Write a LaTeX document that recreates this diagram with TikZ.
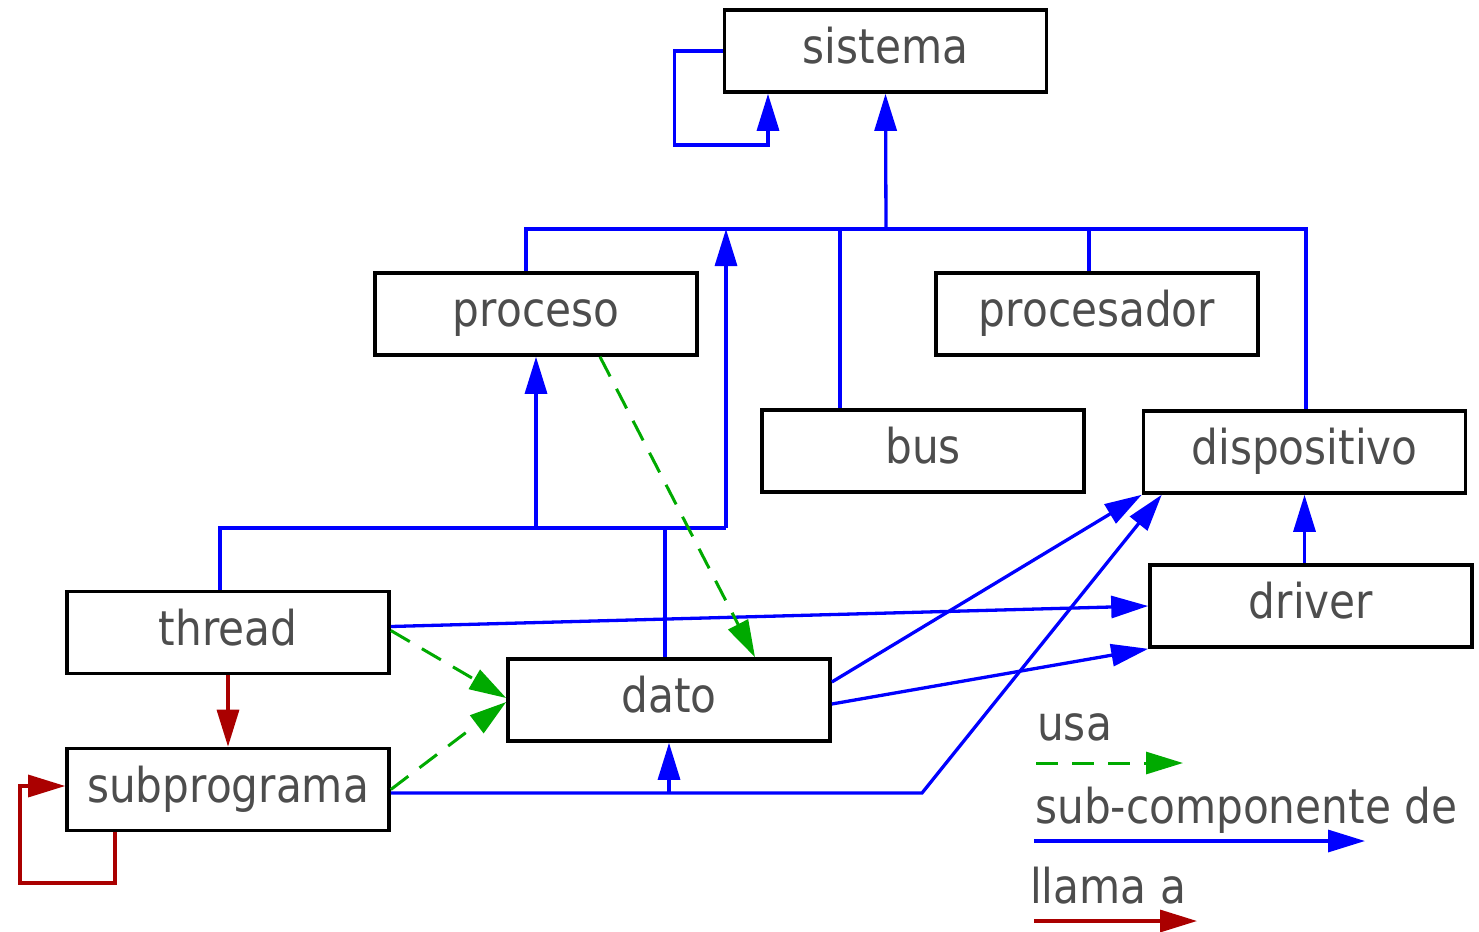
\documentclass[tikz,border=0pt]{standalone}
\usepackage{fontspec}
\newfontfamily\lblfont{DejaVu Sans}[FakeStretch=0.88]
\usetikzlibrary{arrows.meta}
\definecolor{subblue}{HTML}{0000FF}
\definecolor{usegreen}{HTML}{00AA00}
\definecolor{callred}{HTML}{AA0000}
\definecolor{txtgray}{HTML}{4D4D4D}
\begin{document}
\begin{tikzpicture}[x=1pt,y=-1pt,
  box/.style={draw=black,line width=3.6pt,minimum width=322pt,minimum height=82pt,
    inner sep=0pt,text height=37pt,text depth=12pt,text=txtgray,
    font=\lblfont\fontsize{48}{58}\selectfont},
  legendtext/.style={anchor=base west,inner sep=0pt,text=txtgray,
    font=\lblfont\fontsize{48}{58}\selectfont},
  tip/.style={-{Triangle[length=37pt,width=22pt]}},
  sub/.style={draw=subblue,line width=3.3pt},
  subarrow/.style={sub,tip,subblue},
  uses/.style={draw=usegreen,line width=3pt,dash pattern=on 22pt off 14pt,tip,usegreen},
  calls/.style={draw=callred,line width=3.3pt},
  callarrow/.style={calls,tip,callred}]
\useasboundingbox (0,0) rectangle (1479,931);

% component boxes
\node[box] (sistema)     at (885.5,51)  {sistema};
\node[box] (proceso)     at (536,314)   {proceso};
\node[box] (procesador)  at (1097,314)  {procesador};
\node[box] (bus)         at (923,451)   {bus};
\node[box] (dispositivo) at (1304.5,452){dispositivo};
\node[box] (driver)      at (1311,606)  {driver};
\node[box] (thread)      at (228,632.5) {thread};
\node[box] (subprograma) at (228,789.5) {subprograma};
\node[box] (dato)        at (669,700)   {dato};

% junction points of the sub-component trees
\coordinate (j1) at (886,229);
\coordinate (j2) at (726,528);
\coordinate (j3) at (922,793);

% sistema tree
\draw[subarrow] (j1) -- (sistema.south);
\draw[subarrow] (sistema.west) -- ++(-48,0) |- (768,145) -- (768,0 |- sistema.south);
\draw[sub] ([xshift=-10pt]proceso.north) |- (j1) -| ([xshift=1.5pt]dispositivo.north);
\draw[sub] ([xshift=-83pt]bus.north) -- ([xshift=-83pt]bus.north |- j1);
\draw[sub] ([xshift=-8pt]procesador.north) -- ([xshift=-8pt]procesador.north |- j1);

% proceso tree
\draw[sub] ([xshift=-8pt]thread.north) |- (j2);
\draw[subarrow] (j2) -- (j2 |- j1);
\draw[sub] ([xshift=-4pt]dato.north) -- ([xshift=-4pt]dato.north |- j2);
\draw[subarrow] (proceso.south |- j2) -- (proceso.south);

% links to dispositivo and driver
\draw[subarrow] ([yshift=6pt]thread.east) -- (driver.west);
\draw[subarrow] ([yshift=18pt]dato.east) -- (dispositivo.south west);
\draw[subarrow] ([yshift=-4pt]dato.east) -- (driver.south west);
\draw[subarrow] ([yshift=-3.5pt]subprograma.east) -- (j3) -- ([xshift=20pt]dispositivo.south west);
\draw[subarrow] (dato.south |- j3) -- (dato.south);
\draw[subarrow] (dispositivo.south |- driver.north) -- (dispositivo.south);

% uses
\draw[uses] ([xshift=64pt]proceso.south) -- ([xshift=86pt]dato.north);
\draw[uses] ([yshift=2pt]thread.east) -- ([yshift=2pt]dato.west);
\draw[uses] (subprograma.east) -- ([yshift=-2pt]dato.west);

% calls
\draw[callarrow] (thread.south) -- (subprograma.north);
\draw[callarrow] ([xshift=-113pt]subprograma.south) |- (20,883) |- ([yshift=3.5pt]subprograma.west);

% legend
\node[legendtext] (lusa) at (1037,740) {usa};
\node[legendtext] (lsub) at (1035,823) {sub-componente de};
\node[legendtext] (lcall) at (1030,903) {llama a};
\coordinate (g1) at (1036,763);
\coordinate (g2) at (1183,763);
\coordinate (b1) at (1034,841);
\coordinate (b2) at (1365,841);
\coordinate (r1) at (1034,921);
\coordinate (r2) at (1197,921);
\draw[uses] (g1) -- (g2);
\draw[subarrow] (b1) -- (b2);
\draw[callarrow] (r1) -- (r2);
\end{tikzpicture}
\end{document}
